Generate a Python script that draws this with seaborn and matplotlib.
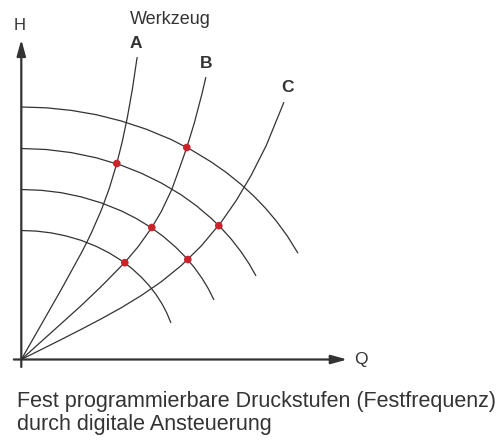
import pandas as pd
import numpy as np
import matplotlib
matplotlib.use("Agg")
import matplotlib.pyplot as plt
import seaborn as sns

# pump curves (fixed pressure stages): Q, H
stage1_q = [0, 25, 50, 75, 100, 125, 150, 170, 190, 205, 220, 232, 244, 255, 266, 276.5]
stage1_h = [252.5, 251.7, 249.1, 244.8, 238.5, 230.3, 219.9, 209.6, 197.5, 187.0,
            174.9, 163.9, 151.5, 138.5, 123.5, 106.6]
stage2_q = [0, 25, 50, 75, 100, 120, 140, 160, 175, 190, 200, 210, 220, 228, 234.5]
stage2_h = [211, 210.0, 206.9, 201.7, 194.2, 186.3, 176.5, 164.6, 153.8, 141.1,
            131.4, 120.3, 107.4, 95.4, 83.9]
stage3_q = [0, 20, 40, 60, 80, 100, 115, 130, 142, 154, 164, 173, 181, 187, 192.5]
stage3_h = [170, 169.2, 166.8, 162.6, 156.6, 148.6, 141.0, 131.8, 123.0, 112.7,
            102.6, 92.0, 80.8, 70.8, 59.9]
stage4_q = [0, 15, 30, 45, 60, 75, 88, 100, 110, 120, 128, 135, 141, 145.5, 149.5]
stage4_h = [129, 128.4, 126.6, 123.5, 119.1, 113.1, 106.5, 99.0, 91.5, 82.4,
            73.7, 64.6, 55.2, 46.5, 36.9]

# system curves (Werkzeug A, B, C)
tool_a_q = [0, 20, 40, 60, 65.5, 70, 80, 88, 95.5, 101, 106, 111, 115.8]
tool_a_h = [0, 35, 70.1, 106.5, 117.2, 126.5, 149.3, 171.1, 196, 218.1, 241.8, 269.9, 302]
tool_b_q = [0, 20, 40, 60, 80, 103.5, 117, 130.5, 140, 150.5, 158, 165.5, 173, 180.5, 184.5]
tool_b_h = [0, 18, 36, 54, 73.1, 97, 113, 132, 148, 170, 190.8, 212, 236.5, 265, 282]
tool_c_q = [0, 20, 40, 60, 80, 100, 120, 140, 160, 180, 200, 215, 230, 245, 262.5]
tool_c_h = [0, 10, 20, 30.2, 40.7, 51.8, 64, 77.8, 94, 113.6, 137.5, 159.1, 184.4,
            214.1, 257]

# operating points
point_q = [95.5, 165.5, 130.5, 197.5, 103.5, 166.5]
point_h = [196, 212, 132, 133.8, 96.8, 100]

curves = {
    "s1": (stage1_q, stage1_h), "s2": (stage2_q, stage2_h),
    "s3": (stage3_q, stage3_h), "s4": (stage4_q, stage4_h),
    "A": (tool_a_q, tool_a_h), "B": (tool_b_q, tool_b_h), "C": (tool_c_q, tool_c_h),
}
rows = []
for name, (q, h) in curves.items():
    for qi, hi in zip(q, h):
        rows.append({"curve": name, "Q": qi, "H": hi})
df = pd.DataFrame(rows)
points = pd.DataFrame({"Q": point_q, "H": point_h})

sns.set_style("white")
plt.rcParams["font.family"] = ["Liberation Sans", "DejaVu Sans"]

ink = "#333333"
fig = plt.figure(figsize=(5.02, 4.41), dpi=100)
ax = fig.add_axes([0, 0, 1, 1])

for name in curves:
    sns.lineplot(data=df[df["curve"] == name], x="Q", y="H", estimator=None,
                 color=ink, lw=0.9, ax=ax, legend=False)

sns.scatterplot(data=points, x="Q", y="H", color="#cc2229", s=30,
                edgecolor="none", zorder=5, ax=ax, legend=False)

# axes with arrows
arrow = dict(arrowstyle="-|>,head_length=0.8,head_width=0.22", lw=1.6,
             color=ink, mutation_scale=12, shrinkA=0, shrinkB=0)
ax.annotate("", xy=(0, 320), xytext=(0, -7.5), arrowprops=arrow)
ax.annotate("", xy=(326, 0), xytext=(-7.5, 0), arrowprops=arrow)

ax.text(-1.5, 333.5, "H", fontsize=12, color=ink, ha="center", va="center")
ax.text(339.5, 0, "Q", fontsize=12.5, color=ink, ha="center", va="center")
ax.text(149, 340, "Werkzeug", fontsize=13, color=ink, ha="center", va="center")
ax.text(114.5, 316.5, "A", fontsize=12.5, color=ink, ha="center", va="center",
        fontweight="bold")
ax.text(184.5, 295.5, "B", fontsize=12.5, color=ink, ha="center", va="center",
        fontweight="bold")
ax.text(266.5, 272, "C", fontsize=12.5, color=ink, ha="center", va="center",
        fontweight="bold")

ax.text(-4, -47.2, "Fest programmierbare Druckstufen (Festfrequenz)",
        fontsize=15.5, color=ink, ha="left", va="baseline")
ax.text(-4, -70.5, "durch digitale Ansteuerung",
        fontsize=15.5, color=ink, ha="left", va="baseline")

ax.set_xlim(-21.3, 480.7)
ax.set_ylim(-81.5, 359.5)
ax.axis("off")

fig.savefig("out.png", dpi=100)
